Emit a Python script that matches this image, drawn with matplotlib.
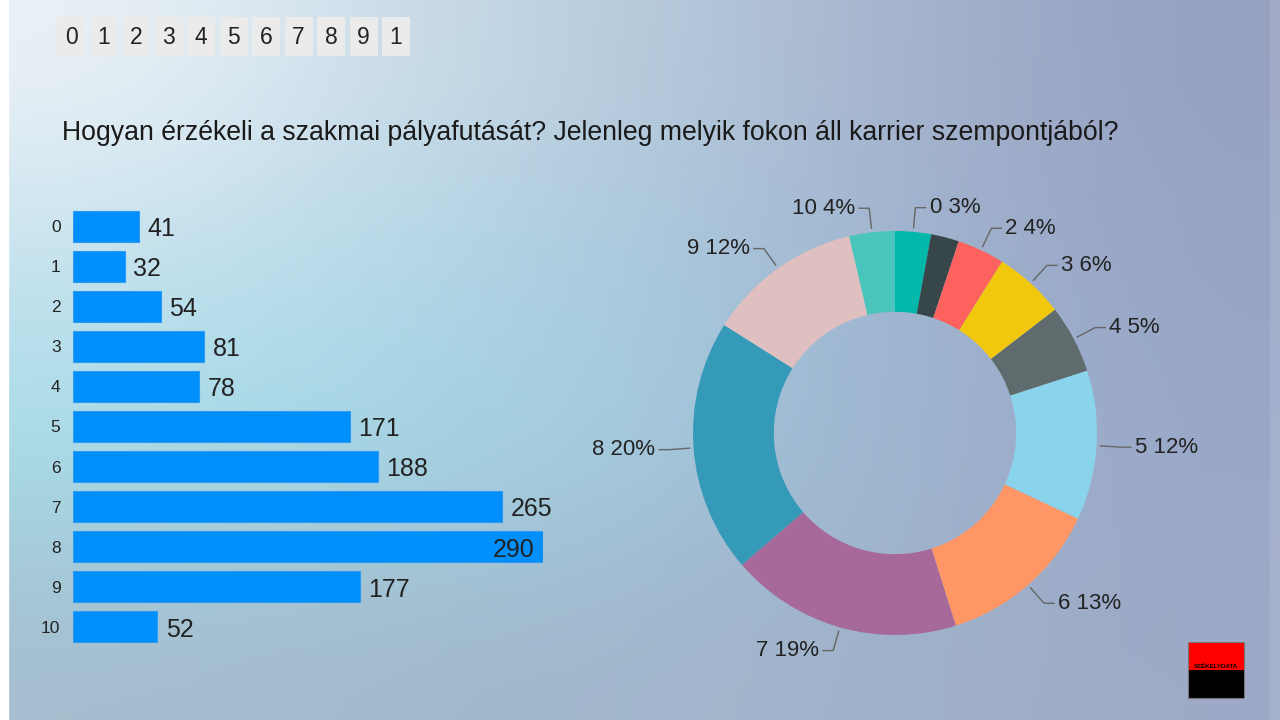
import numpy as np
import matplotlib.pyplot as plt
from matplotlib.patches import Rectangle

plt.rcParams['font.family'] = ['Liberation Sans', 'DejaVu Sans']

# adatok
kategoriak = [0, 1, 2, 3, 4, 5, 6, 7, 8, 9, 10]
ertekek = [41, 32, 54, 81, 78, 171, 188, 265, 290, 177, 52]
szinek = ['#01B8AA', '#374649', '#FD625E', '#F2C80F', '#5F6B6D', '#8AD4EB',
          '#FE9666', '#A66999', '#3599B8', '#DFBFBF', '#4AC5BB']
cim = 'Hogyan érzékeli a szakmai pályafutását? Jelenleg melyik fokon áll karrier szempontjából?'
szeleto = [str(k)[0] for k in kategoriak]  # a szeletelo levagja a "10"-et

fig = plt.figure(figsize=(12.8, 7.2), dpi=100)

# hatter - sima szinatmenet a poligon kep helyett
hatter = np.array([
    [[236, 242, 247], [205, 222, 234], [184, 203, 220], [166, 180, 205], [151, 161, 193]],
    [[196, 225, 237], [178, 216, 232], [169, 202, 222], [160, 180, 208], [152, 166, 198]],
    [[166, 222, 234], [163, 216, 230], [164, 203, 224], [157, 180, 205], [154, 168, 200]],
    [[166, 190, 207], [163, 186, 205], [162, 182, 204], [160, 178, 202], [158, 169, 198]],
]) / 255
bg = fig.add_axes([0, 0, 1, 1])
bg.imshow(hatter, extent=[0, 1280, 720, 0], aspect='auto', interpolation='bicubic')
bg.set_xlim(0, 1280)
bg.set_ylim(720, 0)
bg.axis('off')
bg.add_patch(Rectangle((0, 0), 8, 720, color='white'))
bg.add_patch(Rectangle((1270, 0), 10, 720, color='white', alpha=0.1, lw=0))

# szeletelo dobozok fent
for i, s in enumerate(szeleto):
    x = 57 + i * 32.5
    bg.add_patch(Rectangle((x, 17), 28, 39, color='#ebebeb', lw=0))
    bg.text(x + 14, 37, s, fontsize=16.5, color='#222222', ha='center', va='center')

bg.text(62, 133, cim, fontsize=19.2, color='#1a1a1a', va='center')

# logo
bg.add_patch(Rectangle((1188, 642), 56, 28, color='#ff0000', lw=0))
bg.add_patch(Rectangle((1188, 670), 56, 28, color='#000000', lw=0))
bg.add_patch(Rectangle((1188, 642), 56, 56, fill=False, ec='#777777', lw=0.8))
bg.text(1216, 666, 'SZÉKELYDATA', fontsize=4.5, color='black', weight='bold',
        ha='center', va='center')

# sav diagram
ax = fig.add_axes([73 / 1280, (720 - 647) / 720, 470 / 1280, 441 / 720])
ax.patch.set_alpha(0)
ax.barh(kategoriak, ertekek, height=0.775, color='#008FFB', edgecolor='#2a9cf5', lw=0.8)
ax.set_ylim(10.5, -0.5)
ax.set_xlim(0, max(ertekek))
ax.set_yticks(kategoriak)
ax.set_yticklabels([str(k) for k in kategoriak], fontsize=12.5, color='#222222')
ax.tick_params(axis='y', length=0, pad=9)
ax.set_xticks([])
for s in ax.spines.values():
    s.set_visible(False)
for k, v in zip(kategoriak, ertekek):
    if v > 0.95 * max(ertekek):
        ax.annotate(str(v), (v, k), xytext=(-6, -2), textcoords='offset points',
                    ha='right', va='center', fontsize=18, color='#222222')
    else:
        ax.annotate(str(v), (v, k), xytext=(6, -2), textcoords='offset points',
                    ha='left', va='center', fontsize=18, color='#222222', annotation_clip=False)

# fank diagram
ax2 = fig.add_axes([(895 - 202) / 1280, (720 - 433 - 202) / 720, 404 / 1280, 404 / 720])
szeletek, _ = ax2.pie(ertekek, colors=szinek, startangle=90, counterclock=False,
                      radius=1, wedgeprops=dict(width=0.4, lw=0))
ax2.set_xlim(-1, 1)
ax2.set_ylim(-1, 1)
osszes = sum(ertekek)
for w, k, v in zip(szeletek, kategoriak, ertekek):
    if v / osszes < 0.025:
        continue
    szog = np.deg2rad((w.theta1 + w.theta2) / 2)
    cx, cy = np.cos(szog), np.sin(szog)
    irany = 1 if cx >= 0 else -1
    x1, y1 = 1.02 * cx, 1.02 * cy
    x2, y2 = 1.12 * cx, 1.12 * cy
    x3 = x2 + irany * 0.05
    ax2.plot([x1, x2, x3], [y1, y2, y2], color='#666666', lw=1, clip_on=False)
    ax2.text(x3 + irany * 0.02, y2, f'{k} {round(v / osszes * 100)}%', fontsize=16,
             color='#222222', ha='left' if irany > 0 else 'right', va='center')

plt.savefig('out.png', dpi=100)
plt.close()
